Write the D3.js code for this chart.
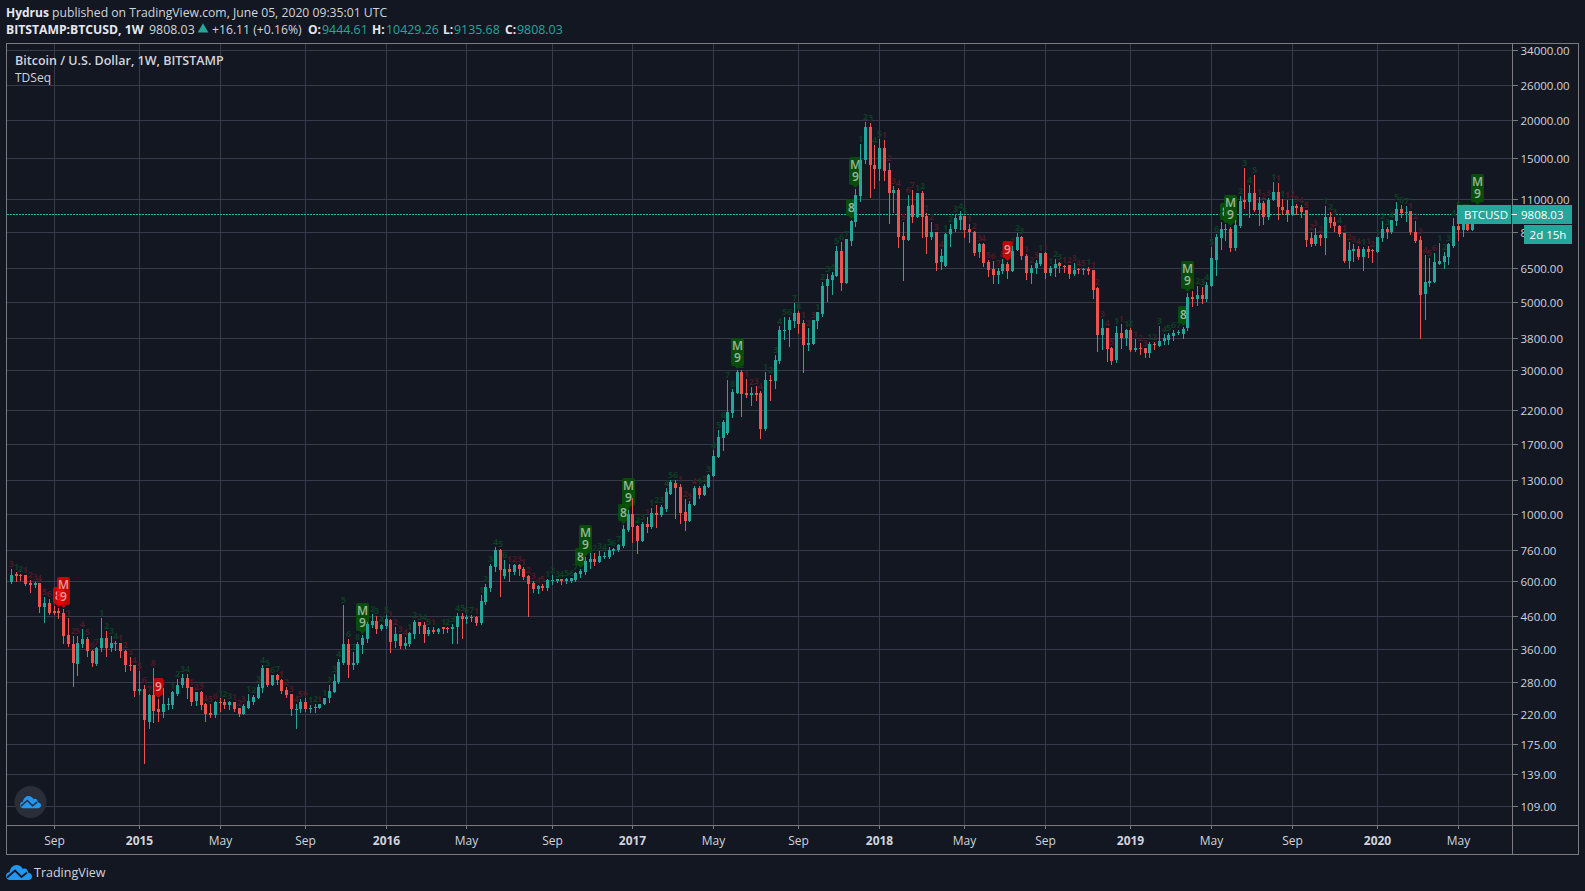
<!DOCTYPE html>
<html>
<head>
<meta charset="utf-8">
<title>BTCUSD 1W</title>
<script src="https://cdn.jsdelivr.net/npm/d3@7"></script>
<style>
    html, body { margin: 0; padding: 0; background: #131722; overflow: hidden; }
    svg { display: block; font-family: "Open Sans", sans-serif; }
</style>
</head>
<body>
<div id="chart"></div>
<script>
// weekly candles, first bar is the week of 2014-06-30
const opens = [
    598, 635, 632, 631, 594, 586, 591, 493, 508, 478,
    478, 474, 401, 374, 320, 373, 389, 354, 321, 362,
    391, 362, 372, 375, 353, 319, 317, 262, 266, 207,
    254, 227, 222, 235, 235, 255, 273, 288, 269, 242,
    260, 236, 221, 217, 241, 240, 234, 241, 229, 220,
    230, 241, 247, 268, 311, 274, 294, 283, 264, 255,
    227, 228, 240, 227, 229, 230, 236, 247, 259, 280,
    322, 372, 318, 323, 370, 388, 432, 445, 419, 429,
    449, 381, 404, 368, 373, 404, 440, 430, 404, 416,
    410, 424, 420, 418, 423, 461, 451, 458, 458, 438,
    515, 572, 668, 763, 625, 660, 645, 680, 660, 625,
    593, 567, 580, 571, 603, 603, 610, 600, 604, 606,
    636, 645, 697, 713, 697, 725, 725, 757, 760, 785,
    885, 1000, 914, 816, 929, 908, 1010, 995, 1040, 1170,
    1270, 1233, 1018, 950, 1073, 1216, 1160, 1234, 1338, 1546,
    1780, 1860, 2163, 2510, 2950, 2510, 2480, 2510, 2515, 1910,
    2780, 2750, 3210, 4030, 4040, 4340, 4625, 4270, 3630, 3650,
    4350, 4590, 5640, 5940, 6120, 7390, 5810, 7990, 9220, 11240,
    14700, 18900, 14150, 13770, 16150, 13650, 11480, 11700, 8270, 8050,
    10450, 9560, 11500, 9610, 8220, 8510, 6780, 6570, 8380, 8700,
    9370, 9650, 8740, 8550, 7330, 7770, 6780, 6420, 6150, 6340,
    6700, 6330, 7420, 8240, 7120, 6260, 6500, 6700, 7260, 6240,
    6480, 6730, 6590, 6630, 6200, 6430, 6370, 6430, 6370, 5570,
    3890, 4110, 3540, 3220, 3960, 3810, 4050, 3480, 3530, 3540,
    3410, 3650, 3600, 3730, 3760, 3880, 3960, 3920, 4100, 5190,
    5120, 5280, 5120, 5650, 6910, 8180, 8680, 8740, 7570, 8950,
    10850, 10720, 11480, 10050, 10650, 9550, 10860, 11540, 10340, 10110,
    9700, 10370, 10320, 10060, 8140, 7800, 8310, 8180, 9570, 9200,
    8950, 8450, 6870, 7410, 7520, 7060, 7520, 7460, 7320, 8180,
    8730, 8510, 9260, 10180, 9870, 10030, 8560, 8040, 5330, 5790,
    5830, 6700, 6800, 7060, 7650, 8900, 8680, 9680, 8660, 9444.61
];
const highs = [
    659, 644, 637, 631, 606, 598, 594, 532, 524, 497,
    490, 487, 454, 396, 396, 418, 393, 356, 366, 456,
    413, 396, 382, 377, 356, 337, 319, 304, 273, 256,
    311, 245, 268, 248, 261, 285, 298, 296, 270, 260,
    261, 238, 236, 242, 248, 246, 242, 241, 230, 236,
    255, 253, 275, 318, 311, 295, 298, 285, 270, 255,
    236, 246, 248, 234, 237, 237, 248, 273, 296, 334,
    501, 387, 351, 378, 400, 442, 468, 462, 435, 465,
    452, 425, 404, 393, 408, 449, 441, 441, 423, 423,
    422, 425, 424, 435, 472, 472, 465, 465, 462, 541,
    589, 685, 780, 768, 707, 685, 685, 685, 670, 630,
    602, 584, 588, 611, 630, 612, 612, 617, 616, 644,
    660, 723, 745, 745, 757, 751, 782, 776, 796, 922,
    1034, 1132, 922, 944, 980, 1050, 1075, 1073, 1222, 1298,
    1300, 1262, 1125, 1105, 1240, 1237, 1260, 1360, 1630, 1902,
    2052, 2779, 2590, 2990, 2998, 2790, 2625, 2650, 2545, 2950,
    2870, 3360, 4170, 4470, 4480, 4980, 4690, 4380, 4110, 4380,
    4640, 5830, 6210, 6300, 7670, 7900, 8080, 9330, 11800, 16600,
    19650, 19500, 16500, 17300, 17200, 14420, 12070, 11900, 9180, 11300,
    11700, 11500, 11650, 9880, 9200, 8560, 7510, 8480, 9060, 9800,
    9970, 9650, 9080, 8600, 7840, 7830, 6890, 6830, 6510, 6930,
    6790, 7700, 8480, 8290, 7240, 6650, 6910, 7250, 7310, 6590,
    6930, 6790, 6640, 6660, 6760, 6490, 6510, 6560, 6400, 5600,
    4410, 4110, 3570, 4180, 4240, 4080, 4130, 3780, 3670, 3540,
    3710, 3710, 4170, 3940, 3960, 4060, 4060, 4160, 5350, 5450,
    5650, 5600, 5820, 7610, 8400, 9200, 9100, 8880, 9370, 11200,
    13880, 12150, 13170, 11150, 10810, 11040, 12510, 12350, 10980, 10890,
    10950, 10530, 10480, 10110, 8560, 8800, 8420, 10400, 9960, 9550,
    9020, 8450, 7880, 7810, 7690, 7640, 7690, 7520, 8230, 9280,
    8850, 9350, 10680, 10510, 10380, 10030, 9280, 8250, 7150, 6990,
    7260, 7830, 7320, 7840, 9470, 10050, 9900, 9950, 9570, 10429.26
];
const lows = [
    594, 603, 606, 584, 553, 576, 477, 441, 469, 469,
    454, 375, 368, 272, 294, 364, 340, 316, 317, 354,
    340, 354, 356, 337, 303, 307, 251, 255, 151, 197,
    206, 208, 214, 227, 230, 254, 270, 247, 234, 234,
    228, 208, 214, 215, 225, 230, 228, 225, 216, 219,
    230, 236, 247, 260, 272, 273, 276, 257, 249, 218,
    197, 222, 225, 222, 222, 230, 236, 241, 259, 278,
    320, 291, 309, 321, 348, 379, 425, 406, 416, 420,
    352, 365, 362, 362, 368, 392, 406, 380, 400, 405,
    406, 406, 408, 376, 376, 391, 438, 444, 431, 435,
    507, 558, 650, 537, 616, 602, 636, 631, 612, 463,
    554, 550, 563, 563, 589, 598, 590, 595, 597, 602,
    620, 636, 665, 681, 697, 718, 718, 741, 755, 780,
    881, 810, 745, 816, 874, 901, 908, 987, 1025, 1170,
    972, 936, 888, 950, 1073, 1132, 1160, 1234, 1338, 1546,
    1634, 1845, 2100, 2510, 2115, 2435, 2290, 2388, 1790, 1902,
    2388, 2600, 3160, 3790, 3590, 4155, 3958, 2935, 3489, 3650,
    4110, 4520, 5050, 5320, 6100, 5510, 5780, 7720, 8920, 10810,
    14450, 11110, 11950, 12680, 12680, 9150, 9900, 7590, 5910, 8050,
    9180, 9560, 8220, 7270, 8060, 6400, 6450, 6570, 7690, 8600,
    8730, 8220, 7890, 7190, 7030, 6590, 6090, 5780, 5770, 6260,
    6020, 6330, 7420, 6930, 5950, 5800, 6240, 6640, 6000, 6140,
    6100, 6280, 6310, 6020, 6150, 6250, 6190, 6190, 5170, 3460,
    3510, 3200, 3130, 3180, 3530, 3620, 3460, 3460, 3380, 3300,
    3300, 3500, 3600, 3650, 3650, 3760, 3920, 3820, 4050, 4870,
    4890, 4970, 5050, 5650, 6150, 7480, 8000, 7380, 7460, 8860,
    10250, 9560, 10000, 9020, 9100, 9440, 10860, 9420, 9800, 9280,
    9700, 9800, 9560, 7670, 7670, 7730, 7730, 7230, 8870, 8620,
    8280, 6770, 6490, 6860, 6960, 6410, 7030, 6780, 7320, 7990,
    8170, 8440, 9030, 9580, 9260, 8380, 7920, 3800, 4410, 5660,
    5830, 6700, 6470, 6690, 7620, 8040, 8250, 8650, 8640, 9135.68
];
const closes = [
    629, 625, 628, 588, 585, 591, 493, 508, 474, 471,
    471, 396, 374, 322, 377, 387, 355, 323, 363, 391,
    362, 377, 377, 354, 317, 315, 261, 266, 210, 254,
    225, 222, 236, 237, 259, 274, 288, 268, 240, 260,
    234, 220, 217, 240, 238, 234, 240, 227, 220, 233,
    242, 249, 269, 311, 274, 295, 283, 261, 254, 227,
    228, 240, 227, 230, 232, 237, 248, 262, 282, 325,
    372, 318, 324, 372, 391, 434, 445, 419, 431, 451,
    380, 404, 368, 376, 405, 442, 429, 404, 416, 410,
    419, 418, 417, 425, 461, 451, 458, 455, 438, 518,
    576, 675, 763, 655, 660, 645, 680, 660, 621, 589,
    567, 580, 572, 606, 606, 610, 603, 612, 614, 639,
    650, 702, 713, 697, 729, 729, 763, 770, 790, 894,
    1003, 908, 816, 929, 908, 1010, 995, 1057, 1185, 1279,
    1220, 1010, 950, 1080, 1220, 1160, 1240, 1350, 1557, 1795,
    2016, 2180, 2530, 2950, 2495, 2480, 2510, 2470, 1905, 2770,
    2750, 3235, 4060, 4060, 4380, 4625, 4240, 3630, 3670, 4380,
    4630, 5660, 5960, 6170, 7390, 5810, 8060, 9280, 11300, 14750,
    18900, 14150, 13770, 16150, 13550, 11500, 11700, 8220, 8050, 10390,
    9560, 11500, 9560, 8220, 8500, 6750, 7130, 8430, 8750, 9470,
    9650, 8690, 8500, 7300, 7760, 6750, 6400, 6150, 6350, 6700,
    6330, 7400, 8240, 7100, 6270, 6500, 6740, 7250, 6230, 6480,
    6700, 6580, 6560, 6180, 6410, 6370, 6420, 6330, 5500, 3890,
    4110, 3510, 3200, 3960, 3810, 4050, 3480, 3530, 3510, 3410,
    3650, 3620, 3740, 3820, 3900, 3970, 3980, 4080, 5190, 5110,
    5280, 5130, 5700, 7000, 8220, 8730, 8740, 7570, 8990, 10800,
    10720, 11480, 10060, 10640, 9530, 10910, 11540, 10300, 10090, 9780,
    10370, 10230, 9950, 8000, 7800, 8310, 8180, 9570, 9150, 8920,
    8390, 6870, 7470, 7520, 7060, 7520, 7350, 7400, 8230, 8730,
    8510, 9350, 10180, 9870, 9930, 8510, 7960, 5290, 5840, 5870,
    6800, 6870, 7100, 7770, 8930, 8680, 9680, 8660, 9444.61, 9808.03
];

// TD sequential count per bar, negative = sell side (red), 0 = nothing visible
const tdCounts = [
    -3, 1, 2, -1, -2, -3, -4, -5, -6, -7,
    -8, -9, -1, -2, -3, -4, -5, -6, -7, 1,
    2, 3, 4, -1, -2, -3, -4, -5, -6, -7,
    -8, -9, -1, 0, 1, 2, 3, 4, -1, -2,
    -3, -4, -5, -6, 1, 2, 3, -1, -2, -3,
    1, 2, 3, 4, 5, 6, 7, -1, -2, -3,
    -4, -5, -6, 1, 2, -1, 1, 2, 3, 4,
    5, 6, 7, 8, 9, 1, 2, 3, 4, 5,
    -1, -2, -3, -4, 1, 2, 3, 4, 5, -1,
    0, 1, 2, 3, 4, 5, 6, 7, -1, 1,
    2, 3, 4, 5, 6, -1, -2, -3, -1, -2,
    -3, -4, -5, 1, 2, 3, 4, 5, 6, 7,
    8, 9, 1, 2, 3, 4, 5, 6, 7, 8,
    9, -1, 2, 3, -1, 1, 2, 3, 4, 5,
    6, -1, -2, -3, -4, 1, 2, 3, 4, 5,
    6, 7, 8, 9, 2, -1, -2, -3, -4, 1,
    2, 3, 4, 5, 6, 7, 8, -1, -2, -3,
    1, 2, 3, 4, 5, 6, 7, 8, 9, 1,
    2, 3, 4, 5, -1, -2, -3, -4, -5, -6,
    -7, 1, 2, -1, -2, -3, -4, 1, 2, 3,
    4, 5, -1, -2, -3, -4, -5, -6, -7, -8,
    -9, -1, 2, 3, -1, -2, -3, 1, -1, 1,
    2, 3, -1, -2, -3, -4, -5, 1, -1, -2,
    -3, -4, -5, 1, -1, 1, 2, -1, -2, -3,
    1, 2, 3, 4, 5, 6, 7, 8, 9, 1,
    2, 3, 4, 5, 6, 7, 8, 9, 1, 2,
    3, 4, 5, -1, -2, -3, 1, -1, 1, -1,
    -2, -3, -4, -5, -2, -3, -2, 1, 2, 3,
    4, -1, -2, -3, -4, 1, -1, -2, 1, 2,
    3, 4, 5, 6, 7, -1, -2, -3, -4, -5,
    -6, 1, 2, 3, 4, 5, 6, 7, 8, 9
];

// pins on top of the candles
const flagBars = [10, 11, 31, 74, 120, 121, 129, 130, 153, 177, 178, 210, 247, 248, 256, 257, 309];
const flagTexts = ['8', 'M9', '9', 'M9', '8', 'M9', '8', 'M9', 'M9', '8', 'M9', '9', '8', 'M9', '8', 'M9', 'M9'];

const priceTicks = [34000, 26000, 20000, 15000, 11000, 8500, 6500, 5000, 3800, 3000, 2200, 1700, 1300, 1000, 760, 600, 460, 360, 280, 220, 175, 139, 109];
const timeTicks = ['2014-09-01', '2015-01-05', '2015-05-04', '2015-09-07', '2016-01-04', '2016-05-02', '2016-09-05', '2017-01-02', '2017-05-01', '2017-09-04', '2018-01-01', '2018-05-07', '2018-09-03', '2019-01-07', '2019-05-06', '2019-09-02', '2020-01-06', '2020-05-04'];
const timeLabels = ['Sep', '2015', 'May', 'Sep', '2016', 'May', 'Sep', '2017', 'May', 'Sep', '2018', 'May', 'Sep', '2019', 'May', 'Sep', '2020', 'May'];

const lastPrice = 9808.03;

const upColor = '#26a69a';
const downColor = '#ef5350';
const bgColor = '#131722';
const gridColor = '#363a4a';
const borderColor = '#7b7b7b';
const textColor = '#d1d4dc';

const width = 1585, height = 891;
const left = 6.5, top_ = 43.5, paneRight = 1512.5, outerRight = 1578.5, paneBottom = 825.5, outerBottom = 854.5;

const parseDay = d3.utcParse('%Y-%m-%d');
const firstWeek = parseDay('2014-06-30');
const barDate = (i) => d3.utcDay.offset(firstWeek, i * 7);

const x = d3.scaleUtc()
    .domain([firstWeek, barDate(closes.length - 1)])
    .range([11.5, 11.5 + (closes.length - 1) * 4.7435])
    .interpolate((a, b) => (t) => Math.floor(a + (b - a) * t));

const y = d3.scaleLog()
    .domain([109, 34000])
    .range([806, 50])
    .interpolate(d3.interpolateRound);

const svg = d3.select('#chart').append('svg')
    .attr('width', width)
    .attr('height', height);

svg.append('rect').attr('width', width).attr('height', height).attr('fill', bgColor);

// the count digits are faint smudges in the original
const defs = svg.append('defs');
defs.append('filter').attr('id', 'soft').append('feGaussianBlur').attr('stdDeviation', 0.45);

// grid
const grid = svg.append('g').attr('shape-rendering', 'crispEdges');
grid.selectAll('.h').data(priceTicks).join('line')
    .attr('x1', left).attr('x2', paneRight)
    .attr('y1', (d) => y(d) + 0.5).attr('y2', (d) => y(d) + 0.5)
    .attr('stroke', gridColor);
grid.selectAll('.v').data(timeTicks).join('line')
    .attr('class', 'v')
    .attr('y1', top_).attr('y2', paneBottom)
    .attr('x1', (d) => x(parseDay(d)) + 0.5).attr('x2', (d) => x(parseDay(d)) + 0.5)
    .attr('stroke', gridColor);

// last price line
svg.append('line')
    .attr('x1', left).attr('x2', paneRight)
    .attr('y1', y(lastPrice) + 0.5).attr('y2', y(lastPrice) + 0.5)
    .attr('stroke', '#2bb5a8')
    .attr('shape-rendering', 'crispEdges')
    .attr('stroke-dasharray', '2,1');

const bars = d3.range(closes.length);

// count digits above the highs
svg.append('g').attr('filter', 'url(#soft)').selectAll('text')
    .data(bars.filter((i) => tdCounts[i] !== 0 && !flagBars.includes(i)))
    .join('text')
    .attr('x', (i) => x(barDate(i)) + 0.5)
    .attr('y', (i) => y(highs[i]) - 2.5)
    .attr('text-anchor', 'middle')
    .attr('font-size', 9)
    .attr('font-weight', 700)
    .attr('fill', (i) => tdCounts[i] < 0 ? '#4d1a26' : '#0e3f24')
    .text((i) => Math.abs(tdCounts[i]));

// pins, under the candles
const flag = svg.append('g').selectAll('g')
    .data(d3.range(flagBars.length))
    .join('g')
    .attr('transform', (k) => 'translate(' + (x(barDate(flagBars[k])) + 0.5) + ',' + (y(highs[flagBars[k]]) - 1) + ')');

function flagPath(w, h) {
    const r = 2, hw = w / 2, b = -3;
    return 'M0,0 L-3,' + b + ' L' + (-hw + r) + ',' + b + ' Q' + (-hw) + ',' + b + ' ' + (-hw) + ',' + (b - r) +
        ' L' + (-hw) + ',' + (b - h + r) + ' Q' + (-hw) + ',' + (b - h) + ' ' + (-hw + r) + ',' + (b - h) +
        ' L' + (hw - r) + ',' + (b - h) + ' Q' + hw + ',' + (b - h) + ' ' + hw + ',' + (b - h + r) +
        ' L' + hw + ',' + (b - r) + ' Q' + hw + ',' + b + ' ' + (hw - r) + ',' + b + ' L3,' + b + ' Z';
}

flag.append('path')
    .attr('d', (k) => flagTexts[k] === 'M9' ? flagPath(13, 28) : flagPath(flagTexts[k] === '8' ? 11 : 10, 17))
    .attr('fill', (k) => tdCounts[flagBars[k]] < 0 ? '#f20000' : '#075208')
    .attr('fill-opacity', (k) => tdCounts[flagBars[k]] < 0 ? 0.78 : 0.92);

flag.each(function(k) {
    const lines = flagTexts[k].split('');
    d3.select(this).selectAll('text').data(lines).join('text')
        .attr('x', 0)
        .attr('y', (d, n) => -7 - (lines.length - 1 - n) * 12)
        .attr('text-anchor', 'middle')
        .attr('font-size', 12)
        .attr('font-weight', 600)
        .attr('fill', 'rgba(255,255,255,0.6)')
        .text((d) => d);
});

// candles
const candles = svg.append('g').attr('shape-rendering', 'crispEdges');
candles.selectAll('line').data(bars).join('line')
    .attr('x1', (i) => x(barDate(i)) + 0.5)
    .attr('x2', (i) => x(barDate(i)) + 0.5)
    .attr('y1', (i) => y(highs[i]))
    .attr('y2', (i) => y(lows[i]) + 1)
    .attr('stroke', (i) => closes[i] >= opens[i] ? upColor : downColor);
candles.selectAll('rect').data(bars).join('rect')
    .attr('x', (i) => x(barDate(i)) - 1)
    .attr('width', 3)
    .attr('y', (i) => y(Math.max(opens[i], closes[i])))
    .attr('height', (i) => Math.max(1, y(Math.min(opens[i], closes[i])) - y(Math.max(opens[i], closes[i]))))
    .attr('fill', (i) => closes[i] >= opens[i] ? upColor : downColor);

// axes
const yAxis = svg.append('g')
    .attr('transform', 'translate(' + paneRight + ',0)')
    .call(d3.axisRight(y).tickValues(priceTicks).tickFormat(d3.format('.2f')).tickSize(5).tickPadding(3));
const xAxis = svg.append('g')
    .attr('transform', 'translate(0,' + paneBottom + ')')
    .call(d3.axisBottom(x).tickValues(timeTicks.map(parseDay)).tickFormat((d, i) => timeLabels[i]).tickSize(3).tickPadding(8));
[yAxis, xAxis].forEach((a) => {
    a.select('.domain').remove();
    a.selectAll('line').attr('stroke', borderColor).attr('shape-rendering', 'crispEdges');
    a.selectAll('text').attr('fill', textColor).attr('font-size', 12).attr('font-family', '"Open Sans", sans-serif');
});
yAxis.selectAll('text').attr('font-size', 11.5).attr('y', 1);
xAxis.selectAll('text').attr('font-weight', (d, i) => /^\d/.test(timeLabels[i]) ? 700 : 400);

// frame
const frame = svg.append('g').attr('fill', 'none').attr('stroke', borderColor).attr('shape-rendering', 'crispEdges');
frame.append('rect').attr('x', left).attr('y', top_).attr('width', outerRight - left).attr('height', outerBottom - top_);
frame.append('line').attr('x1', paneRight).attr('x2', paneRight).attr('y1', top_).attr('y2', outerBottom);
frame.append('line').attr('x1', left).attr('x2', outerRight).attr('y1', paneBottom).attr('y2', paneBottom);

// price labels
const labelY = y(lastPrice);
svg.append('rect').attr('x', 1457).attr('y', 205).attr('width', 54).attr('height', 19).attr('fill', upColor);
svg.append('rect').attr('x', 1512).attr('y', 205).attr('width', 60).attr('height', 19).attr('fill', upColor);
svg.append('rect').attr('x', 1524).attr('y', 225).attr('width', 48).attr('height', 19).attr('fill', upColor);
svg.append('line').attr('x1', 1512).attr('x2', 1517).attr('y1', labelY + 0.5).attr('y2', labelY + 0.5).attr('stroke', '#fff').attr('shape-rendering', 'crispEdges');

function label(txt, px, py, opts) {
    opts = opts || {};
    return svg.append('text')
        .attr('x', px).attr('y', py)
        .attr('font-size', opts.size || 12)
        .attr('font-weight', opts.weight || 400)
        .attr('text-anchor', opts.anchor || 'start')
        .attr('fill', opts.fill || textColor)
        .text(txt);
}

label('BTCUSD', 1486, 218.5, { anchor: 'middle', fill: '#fff', size: 11.5 });
label('9808.03', 1521, 218.5, { fill: '#fff', size: 11.5 });
label('2d 15h', 1548, 239, { anchor: 'middle', fill: '#fff', size: 11.5 });

// header
label('Hydrus', 6, 17, { weight: 700, fill: '#e6e8ef' });
label('published on TradingView.com, June 05, 2020 09:35:01 UTC', 52, 17, { size: 12.2 });
label('BITSTAMP:BTCUSD, 1W', 6, 34, { weight: 700, fill: '#e6e8ef', size: 12.2 });
label('9808.03', 149, 34, { size: 12.4 });
svg.append('path').attr('d', d3.symbol(d3.symbolTriangle, 50)).attr('transform', 'translate(203,29.5)').attr('fill', upColor);
label('+16.11 (+0.16%)', 212, 34, { size: 12.2 });
const ohlcLabels = ['O:', 'H:', 'L:', 'C:'];
const ohlcValues = ['9444.61', '10429.26', '9135.68', '9808.03'];
const ohlcKeyX = [308, 372, 443, 505];
const ohlcValueX = [322, 386, 454, 517];
ohlcLabels.forEach((k, i) => {
    label(k, ohlcKeyX[i], 34, { weight: 700, fill: '#e6e8ef' });
    label(ohlcValues[i], ohlcValueX[i], 34, { fill: upColor, size: 12.4 });
});
label('Bitcoin / U.S. Dollar, 1W, BITSTAMP', 15, 65, { weight: 600, size: 12.5 });
label('TDSeq', 15, 82);

// TradingView marks
const cloud = 'M4,15 C1.5,15 0,13.2 0,11 C0,8.8 1.6,7.2 3.6,7 C4.2,3.2 7,0 10.5,0 C13.2,0 15.5,1.6 16.8,4 C18,3.2 20,3.4 21,4.6 C21.7,5.6 22,6.6 22,7.6 C24.4,8 26,9.6 26,11.5 C26,13.6 24.4,15 22.4,15 Z';
const zig = 'M1,12.5 L9,5.5 L15.5,12 L21,7.5';

svg.append('circle').attr('cx', 30.5).attr('cy', 802).attr('r', 16).attr('fill', '#2a2e39');
const small = svg.append('g').attr('transform', 'translate(20,796) scale(0.81)');
small.append('path').attr('d', cloud).attr('fill', '#2196f3');
small.append('path').attr('d', zig).attr('fill', 'none').attr('stroke', '#2a2e39').attr('stroke-width', 1.8);

const big = svg.append('g').attr('transform', 'translate(6,865)');
big.append('path').attr('d', cloud).attr('fill', '#2196f3');
big.append('path').attr('d', zig).attr('fill', 'none').attr('stroke', bgColor).attr('stroke-width', 1.8);
label('TradingView', 34, 877, { size: 12.5 });
</script>
</body>
</html>
